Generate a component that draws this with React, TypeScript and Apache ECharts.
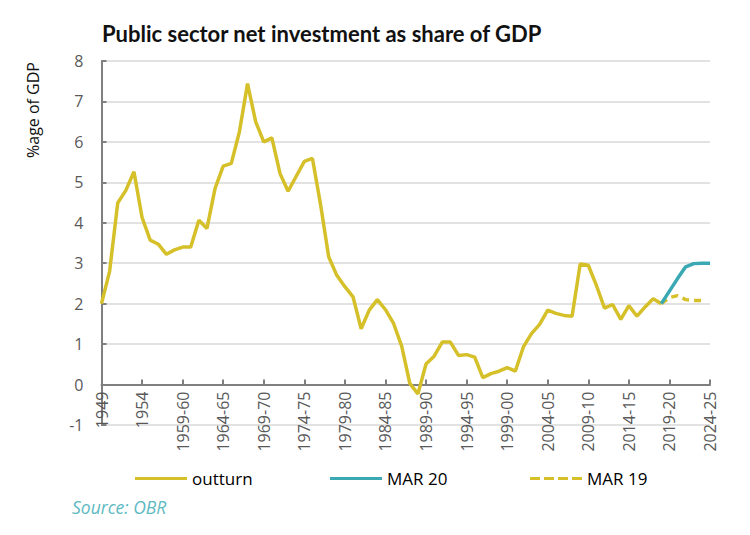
import React, { useEffect, useRef } from "react";
import * as echarts from "echarts";

// Category labels: 1949..1954 calendar years, then fiscal years up to 2024-25
const firstYear = 1949;
const lastCalendarYear = 1954;
const lastYear = 2024;
const categories: string[] = [];
for (let y = firstYear; y <= lastYear; y++) {
  if (y <= lastCalendarYear) categories.push(String(y));
  else categories.push(`${y}-${String((y + 1) % 100).padStart(2, "0")}`);
}

// Outturn, 1949 .. 2018-19 (% of GDP)
const outturn = [
  2.0, 2.8, 4.49, 4.8, 5.26, 4.13, 3.57, 3.47, 3.22, 3.33,
  3.4, 3.4, 4.06, 3.86, 4.85, 5.4, 5.47, 6.25, 7.44, 6.5,
  6.0, 6.1, 5.22, 4.78, 5.15, 5.52, 5.59, 4.45, 3.16, 2.7,
  2.42, 2.17, 1.38, 1.84, 2.1, 1.85, 1.51, 0.95, 0.03, -0.23,
  0.51, 0.7, 1.05, 1.05, 0.72, 0.74, 0.68, 0.17, 0.27, 0.33,
  0.42, 0.33, 0.93, 1.26, 1.49, 1.84, 1.76, 1.71, 1.69, 2.98,
  2.95, 2.45, 1.89, 1.98, 1.61, 1.95, 1.69, 1.92, 2.12, 2.0,
];

// March 2020 forecast, 2018-19 .. 2024-25
const mar20Start = "2018-19";
const mar20 = [2.0, 2.31, 2.62, 2.91, 2.99, 3.0, 3.0];

// March 2019 forecast, 2018-19 .. 2023-24
const mar19Start = "2018-19";
const mar19 = [2.0, 2.15, 2.2, 2.1, 2.08, 2.08];

const yTicks = { min: -1, max: 8, interval: 1 };

const YELLOW = "#D5C02A";
const TEAL = "#3AA9B3";

function pad(values: number[], startLabel: string): (number | null)[] {
  const start = categories.indexOf(startLabel);
  return categories.map((_, i) =>
    i >= start && i - start < values.length ? values[i - start] : null
  );
}

const GRID_TOP = 61;
const GRID_BOTTOM = 110;
const HEIGHT = 535;

export default function App() {
  const ref = useRef<HTMLDivElement>(null);
  useEffect(() => {
    if (!ref.current) return;
    const chart = echarts.init(ref.current, undefined, { renderer: "svg" });
    const font = "'Open Sans', 'Noto Sans', sans-serif";
    const gridH = HEIGHT - GRID_TOP - GRID_BOTTOM;
    const zeroOffset = -(gridH * (0 - yTicks.min)) / (yTicks.max - yTicks.min);
    const solidIcon = "path://M0,0h52v3h-52z";
    const dashedIcon = "path://M0,0h10v3h-10z M14,0h10v3h-10z M28,0h10v3h-10z M42,0h10v3h-10z";
    const legendBase = {
      top: 470,
      padding: 0,
      itemWidth: 52,
      itemHeight: 3.5,
      textStyle: { fontFamily: font, fontSize: 17, color: "#000" },
    };
    chart.setOption({
      animation: false,
      backgroundColor: "#ffffff",
      title: {
        text: "Public sector net investment as share of GDP",
        left: 102,
        top: 22,
        padding: 0,
        textStyle: {
          fontFamily: "Lato, 'Open Sans', sans-serif",
          fontWeight: "bold",
          fontSize: 22,
          color: "#111111",
        },
      },
      grid: { left: 101.5, right: 40, top: GRID_TOP, bottom: GRID_BOTTOM, containLabel: false },
      legend: [
        { ...legendBase, data: [{ name: "outturn", icon: solidIcon }], left: 135 },
        { ...legendBase, data: [{ name: "MAR 20", icon: solidIcon }], left: 330 },
        { ...legendBase, data: [{ name: "MAR 19", icon: dashedIcon }], left: 530 },
      ],
      xAxis: {
        type: "category",
        data: categories,
        boundaryGap: false,
        offset: zeroOffset,
        axisLine: { onZero: false, lineStyle: { color: "#7f7f7f", width: 2 } },
        axisTick: { show: true, inside: true, length: 5, interval: 4, lineStyle: { color: "#7f7f7f", width: 2 } },
        axisLabel: {
          interval: 4,
          rotate: 90,
          margin: 7,
          fontFamily: font,
          fontSize: 16,
          color: "#595959",
        },
        splitLine: { show: false },
      },
      yAxis: {
        type: "value",
        min: yTicks.min,
        max: yTicks.max,
        interval: yTicks.interval,
        axisLine: { show: true, lineStyle: { color: "#7f7f7f", width: 2 } },
        axisTick: { show: true, inside: true, length: 5, lineStyle: { color: "#7f7f7f", width: 2 } },
        axisLabel: { fontFamily: font, fontSize: 16, color: "#595959", margin: 18 },
        splitLine: { show: true, lineStyle: { color: "#d9d9d9", width: 1.5 } },
      },
      graphic: [
        {
          type: "text",
          x: 33,
          y: 110,
          rotation: Math.PI / 2,
          style: {
            text: "%age of GDP",
            fontFamily: font,
            fontSize: 16,
            fill: "#111111",
            align: "center",
            verticalAlign: "middle",
          },
        },
        {
          type: "text",
          x: 72,
          y: 507,
          style: {
            text: "Source: OBR",
            fontFamily: font,
            fontStyle: "italic",
            fontSize: 17.5,
            fill: "#5DB9C2",
            align: "left",
            verticalAlign: "middle",
          },
        },
      ],
      series: [
        {
          name: "outturn",
          type: "line",
          data: pad(outturn, categories[0]),
          symbol: "none",
          color: YELLOW,
          lineStyle: { color: YELLOW, width: 3.5 },
          z: 3,
        },
        {
          name: "MAR 20",
          type: "line",
          data: pad(mar20, mar20Start),
          symbol: "none",
          color: TEAL,
          lineStyle: { color: TEAL, width: 3.5 },
          z: 4,
        },
        {
          name: "MAR 19",
          type: "line",
          data: pad(mar19, mar19Start),
          symbol: "none",
          color: YELLOW,
          lineStyle: { color: YELLOW, width: 3.5, type: [7, 5] },
          z: 2,
        },
      ],
    });
    return () => chart.dispose();
  }, []);
  return (
    <div
      ref={ref}
      style={{ position: "fixed", left: 0, top: 0, width: 750, height: HEIGHT }}
    />
  );
}
